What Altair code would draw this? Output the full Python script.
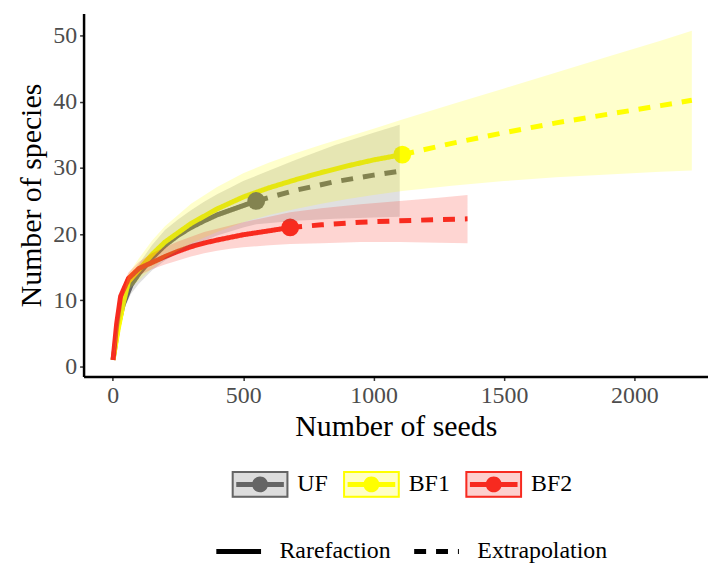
import altair as alt
import pandas as pd

sites = ["UF", "BF1", "BF2"]
site_colors = ["#666666", "#FFFF00", "#F82B20"]
methods = ["Rarefaction", "Extrapolation"]

# UF (grey)
uf_rare_x = [1, 20, 40, 70, 100, 150, 200, 250, 300, 350, 400, 450, 500, 550]
uf_rare_y = [1, 6.0, 9.4, 12.3, 14.0, 16.4, 18.3, 19.8, 21.0, 22.0, 22.9, 23.6, 24.3, 25.0]
uf_rare_lo = [1, 5.2, 8.4, 11.0, 12.5, 14.5, 16.0, 17.2, 18.2, 19.0, 19.8, 20.4, 21.0, 21.5]
uf_rare_hi = [1, 6.8, 10.4, 13.6, 15.5, 18.3, 20.6, 22.2, 23.6, 24.9, 26.0, 27.0, 28.0, 28.8]
uf_ext_x = [550, 700, 850, 1000, 1100]
uf_ext_y = [25.0, 26.6, 27.9, 28.9, 29.5]
uf_ext_lo = [21.5, 22.0, 22.3, 22.5, 22.6]
uf_ext_hi = [28.8, 31.2, 33.4, 35.3, 36.5]

# BF1 (yellow)
bf1_rare_x = [1, 20, 40, 60, 100, 150, 200, 300, 400, 500, 600, 700, 800, 900, 1000, 1110]
bf1_rare_y = [1, 5.5, 9.5, 12.8, 14.6, 16.9, 18.8, 21.6, 23.8, 25.6, 27.0, 28.2, 29.3, 30.3, 31.2, 32.0]
bf1_rare_lo = [1, 4.7, 8.4, 11.6, 13.0, 14.8, 16.4, 18.6, 20.3, 21.8, 22.9, 23.8, 24.6, 25.3, 25.9, 26.5]
bf1_rare_hi = [1, 6.3, 10.6, 14.0, 16.3, 19.0, 21.2, 24.6, 27.1, 29.2, 30.8, 32.2, 33.5, 34.7, 35.9, 37.3]
bf1_ext_x = [1110, 1300, 1500, 1700, 1900, 2100, 2220]
bf1_ext_y = [32.0, 33.7, 35.3, 36.8, 38.1, 39.4, 40.2]
bf1_ext_lo = [26.5, 27.3, 28.0, 28.6, 29.0, 29.4, 29.6]
bf1_ext_hi = [37.3, 39.6, 42.0, 44.4, 46.8, 49.2, 50.7]

# BF2 (red)
bf2_rare_x = [1, 15, 30, 60, 100, 150, 200, 250, 300, 350, 400, 450, 500, 600, 680]
bf2_rare_y = [1, 6.5, 10.6, 13.3, 14.8, 15.7, 16.6, 17.4, 18.1, 18.65, 19.1, 19.5, 19.9, 20.5, 21.0]
bf2_rare_lo = [1, 5.8, 9.8, 12.4, 13.8, 14.7, 15.4, 16.0, 16.6, 17.1, 17.5, 17.8, 18.0, 18.3, 18.5]
bf2_rare_hi = [1, 7.2, 11.4, 14.2, 15.8, 17.1, 18.0, 18.9, 19.6, 20.3, 20.8, 21.3, 21.8, 22.6, 23.3]
bf2_ext_x = [680, 800, 950, 1100, 1250, 1360]
bf2_ext_y = [21.0, 21.4, 21.8, 22.0, 22.2, 22.3]
bf2_ext_lo = [18.5, 18.6, 18.8, 18.8, 18.7, 18.6]
bf2_ext_hi = [23.3, 23.9, 24.5, 25.0, 25.5, 25.9]

obs_x = [550, 1110, 680]
obs_y = [25.0, 32.0, 21.0]

x_ticks = [0, 500, 1000, 1500, 2000]
y_ticks = [0, 10, 20, 30, 40, 50]

series = {
    "UF": (uf_rare_x, uf_rare_y, uf_rare_lo, uf_rare_hi, uf_ext_x, uf_ext_y, uf_ext_lo, uf_ext_hi),
    "BF1": (bf1_rare_x, bf1_rare_y, bf1_rare_lo, bf1_rare_hi, bf1_ext_x, bf1_ext_y, bf1_ext_lo, bf1_ext_hi),
    "BF2": (bf2_rare_x, bf2_rare_y, bf2_rare_lo, bf2_rare_hi, bf2_ext_x, bf2_ext_y, bf2_ext_lo, bf2_ext_hi),
}

# separate keys per layer so that Vega-Lite keeps the legends apart
L_SUF, P_SUF = "_l", "_p"
line_rows, rib_rows = [], []
for s, (rx, ry, rlo, rhi, ex, ey, elo, ehi) in series.items():
    for a, b in zip(rx, ry):
        line_rows.append({"x": a, "y": b, "lsite": s + L_SUF, "method": "Rarefaction"})
    for a, b in zip(ex, ey):
        line_rows.append({"x": a, "y": b, "lsite": s + L_SUF, "method": "Extrapolation"})
    for a, lo, hi in zip(rx + ex[1:], rlo + elo[1:], rhi + ehi[1:]):
        rib_rows.append({"x": a, "lo": lo, "hi": hi, "site": s})
lines_df = pd.DataFrame(line_rows)
rib_df = pd.DataFrame(rib_rows)
pts_df = pd.DataFrame({"x": obs_x, "y": obs_y, "psite": [s + P_SUF for s in sites]})

FONT = "Liberation Serif"
xscale = alt.Scale(domain=[-112, 2282], nice=False, zero=False)
yscale = alt.Scale(domain=[-1.5, 53.3], nice=False, zero=False)
xaxis = alt.Axis(values=x_ticks, format="d", title="Number of seeds", grid=False, titlePadding=4)
yaxis = alt.Axis(values=y_ticks, title="Number of species", grid=False, titlePadding=6)

LEG_X = 149
LEG_Y = 445
box_path = "M-1,-0.47H1V0.47H-1Z"
glyph_path = ("M-1,-0.47H1V0.47H-1Z"
              "M-0.93,-0.4V0.4H0.93V-0.4Z"
              "M-0.84,-0.088H0.84V0.088H-0.84Z"
              "M0.28,0A0.28,0.28,0,1,1,-0.28,0A0.28,0.28,0,1,1,0.28,0Z")

glyph_legend = alt.Legend(
    orient="none", legendX=LEG_X, legendY=LEG_Y, direction="horizontal", title=None,
    symbolType=glyph_path, symbolSize=3249, symbolStrokeWidth=0, symbolOpacity=1,
    labelFont=FONT, labelFontSize=24, labelColor="transparent", labelOffset=9,
    labelExpr="replace(datum.label, '_p', '')",
    columnPadding=15, padding=0,
)
fill_legend = alt.Legend(
    orient="none", legendX=LEG_X, legendY=LEG_Y, direction="horizontal", title=None,
    symbolType=box_path, symbolSize=3249, symbolStrokeWidth=0, symbolOpacity=0.22,
    labelFont=FONT, labelFontSize=24, labelColor="black", labelOffset=9,
    columnPadding=15, padding=0,
)
dash_legend = alt.Legend(
    orient="none", legendX=131, legendY=516, direction="horizontal", title=None,
    symbolType="stroke", symbolSize=2025, symbolStrokeWidth=5, symbolStrokeColor="black",
    labelFont=FONT, labelFontSize=24, labelColor="black", labelOffset=16,
    columnPadding=13, padding=0,
)

lines = alt.Chart(lines_df).mark_line(strokeWidth=5, strokeCap="butt").encode(
    x=alt.X("x:Q", scale=xscale, axis=xaxis),
    y=alt.Y("y:Q", scale=yscale, axis=yaxis),
    stroke=alt.Stroke("lsite:N", scale=alt.Scale(domain=[s + L_SUF for s in sites], range=site_colors), legend=None),
    strokeDash=alt.StrokeDash("method:N", scale=alt.Scale(domain=methods, range=[[1, 0], [12, 10]]), legend=dash_legend),
)
points = alt.Chart(pts_df).mark_circle(size=320, opacity=1).encode(
    x=alt.X("x:Q", scale=xscale, axis=xaxis),
    y=alt.Y("y:Q", scale=yscale, axis=yaxis),
    color=alt.Color("psite:N", scale=alt.Scale(domain=[s + P_SUF for s in sites], range=site_colors), legend=glyph_legend),
)
ribbons = alt.Chart(rib_df).mark_area(fillOpacity=0.2).encode(
    x=alt.X("x:Q", scale=xscale, axis=xaxis),
    y=alt.Y("lo:Q", scale=yscale, axis=yaxis),
    y2="hi:Q",
    fill=alt.Fill("site:N", scale=alt.Scale(domain=sites, range=site_colors), legend=fill_legend),
)

chart = alt.layer(lines, points, ribbons).properties(
    width=628, height=365,
    autosize=alt.AutoSizeParams(type="none"),
    padding={"left": 76, "top": 4, "right": 0, "bottom": 186},
).configure_view(stroke=None).configure_axis(
    labelFont=FONT, labelFontSize=24, labelColor="#4d4d4d", labelPadding=3,
    titleFont=FONT, titleFontSize=30, titleColor="black", titleFontWeight="normal",
    domainColor="black", domainWidth=2.5, tickColor="#333333", tickWidth=1.5, tickSize=4,
)

chart.save("out.html", embed_options={"renderer": "svg", "actions": False})
